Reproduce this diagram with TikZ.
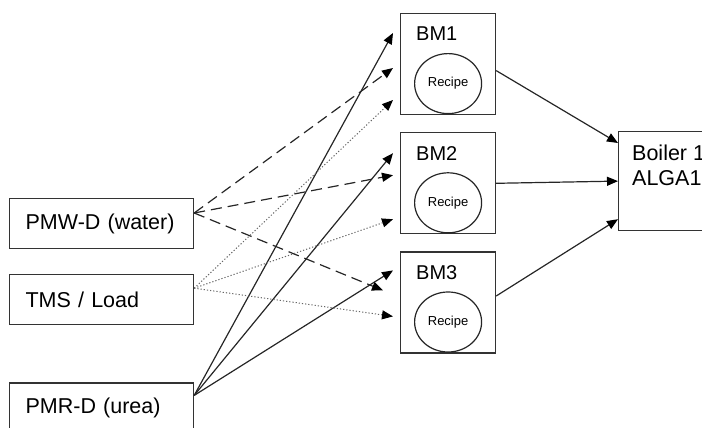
\documentclass[tikz,border=0pt]{standalone}
\usepackage{fontspec}
\setmainfont{Liberation Sans}
\usetikzlibrary{shapes,arrows.meta,positioning,calc}

\begin{document}
\begin{tikzpicture}[
        x=1pt, y=-1pt,
        node distance=17pt,
        box/.style={rectangle, draw=black!80, line width=1.2pt, minimum height=50pt, text width=152pt, inner xsep=16pt, align=left, font=\fontsize{21.5}{26}\selectfont},
        bmbox/.style={rectangle, draw=black!80, line width=1.2pt, minimum width=95pt, minimum height=101pt, inner sep=0pt},
        recipe/.style={ellipse, draw=black!85, line width=1.2pt, minimum width=67pt, minimum height=60pt, inner sep=0pt, font=\fontsize{13}{15}\selectfont},
        tag/.style={anchor=north west, inner sep=0pt, font=\fontsize{20}{25}\selectfont},
        arrow/.style={-{Triangle[length=11pt,width=9pt,color=black]}, line width=1.2pt, draw=black!85},
        water/.style={arrow, dash pattern=on 11pt off 6pt},
        load/.style={arrow, dotted, line width=1pt, draw=black!60},
        urea/.style={arrow}
    ]
        \clip (0,0) rectangle (702,428);

        % Inputs
        \node[box, anchor=north west] (pmw) at (9,198) {PMW-D (water)};
        \node[box, below=25pt of pmw] (tms) {TMS / Load};
        \node[box, below=57pt of tms] (pmr) {PMR-D (urea)};

        % Batch modules with recipes
        \node[bmbox, anchor=north west] (bm1) at (400,13) {};
        \node[bmbox, below=17pt of bm1] (bm2) {};
        \node[bmbox, below=17pt of bm2] (bm3) {};
        \foreach \i in {1,2,3} {
            \node[tag] (bm\i-tag) at ([shift={(16pt,-14pt)}]bm\i.north west) {BM\i};
            \node[recipe] (bm\i-recipe) at ([yshift=-19.5pt]bm\i.center) {Recipe};
        }

        % Boiler
        \node[rectangle, draw=black!80, line width=1.2pt, minimum width=110pt, minimum height=99pt, anchor=north west] (boiler) at (618,131) {};
        \node[tag, align=left, font=\fontsize{21.5}{25}\selectfont] (boiler-tag) at ([shift={(14pt,-14pt)}]boiler.north west) {Boiler 1\\ALGA1};

        % Connector ends
        \coordinate (pmw-out) at ([yshift=-15pt]pmw.north east);
        \coordinate (tms-out) at ([yshift=-14pt]tms.north east);
        \coordinate (pmr-out) at ([yshift=-13pt]pmr.north east);

        % Urea
        \draw[urea] (pmr-out) -- ([shift={(-7pt,-20pt)}]bm1.north west);
        \draw[urea] (pmr-out) -- ([shift={(-7pt,-21pt)}]bm2.north west);
        \draw[urea] (pmr-out) -- ([shift={(-7pt,-19pt)}]bm3.north west);

        % Water
        \draw[water] (pmw-out) -- ([shift={(-7pt,-55pt)}]bm1.north west);
        \draw[water] (pmw-out) -- ([shift={(-7pt,-43pt)}]bm2.north west);
        \draw[water] (pmw-out) -- ([shift={(-17pt,-39pt)}]bm3.north west);

        % Load
        \draw[load] (tms-out) -- ([shift={(-7pt,-87pt)}]bm1.north west);
        \draw[load] (tms-out) -- ([shift={(-7pt,-87pt)}]bm2.north west);
        \draw[load] (tms-out) -- ([shift={(-7pt,-65pt)}]bm3.north west);

        % To boiler
        \draw[arrow] ([yshift=-6.5pt]bm1.east) -- ([yshift=-12pt]boiler.north west);
        \draw[arrow] (bm2.east) -- (boiler.west);
        \draw[arrow] ([yshift=6.5pt]bm3.east) -- ([yshift=12pt]boiler.south west);
    \end{tikzpicture}
\end{document}
